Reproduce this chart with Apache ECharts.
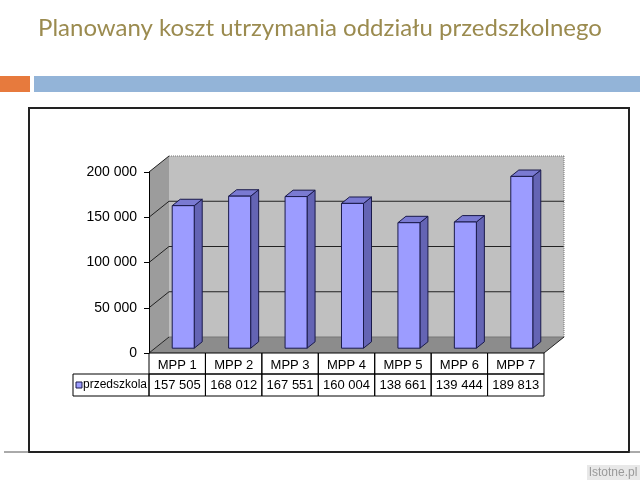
<!DOCTYPE html>
<html lang="pl">
<head>
<meta charset="UTF-8">
<title>Planowany koszt utrzymania oddziału przedszkolnego</title>
<script src="https://cdn.jsdelivr.net/npm/echarts@6/dist/echarts.min.js"></script>
<style>html,body{margin:0;padding:0;background:#fff}</style>
</head>
<body>
<div id="box" style="width:640px;height:480px"></div>
<script>
var titleText = 'Planowany koszt utrzymania oddziału przedszkolnego';
var categories = ['MPP 1', 'MPP 2', 'MPP 3', 'MPP 4', 'MPP 5', 'MPP 6', 'MPP 7'];
var values = [157505, 168012, 167551, 160004, 138661, 139444, 189813];
var seriesName = 'przedszkola';
var yTicks = [0, 50000, 100000, 150000, 200000];

var myChart = echarts.init(document.getElementById('box'));

// przesuniecie tylnej sciany (glebokosc "3D")
var DX = 20, DY = -16;
var FONT = 'Liberation Sans, Arial, sans-serif';

function fmt(v) {
    return String(v).replace(/\B(?=(\d{3})+(?!\d))/g, ' ');
}

function line(x1, y1, x2, y2, color, dash) {
    return {
        type: 'line',
        shape: { x1: x1, y1: y1, x2: x2, y2: y2 },
        style: { stroke: color, lineWidth: 1, lineDash: dash || null }
    };
}

// sciany i podloga
function renderWalls(params, api) {
    var cs = params.coordSys;
    var x0 = cs.x, x1 = cs.x + cs.width;
    var yTop = api.coord([0, yTicks[yTicks.length - 1]])[1];
    var yBot = api.coord([0, 0])[1];
    var children = [
        { type: 'rect', shape: { x: x0 + DX, y: yTop + DY, width: x1 - x0, height: yBot - yTop }, style: { fill: '#c0c0c0' } },
        { type: 'polygon', shape: { points: [[x0, yTop], [x0 + DX, yTop + DY], [x0 + DX, yBot + DY], [x0, yBot]] }, style: { fill: '#9c9c9c' } },
        { type: 'polygon', shape: { points: [[x0, yBot], [x0 + DX, yBot + DY], [x1 + DX, yBot + DY], [x1, yBot]] }, style: { fill: '#8c8c8c' } }
    ];
    yTicks.forEach(function (v) {
        var y = api.coord([0, v])[1];
        if (v > 0 && v < yTicks[yTicks.length - 1]) {
            children.push(line(x0 + DX, y + DY, x1 + DX, y + DY, '#222'));
        }
        children.push(line(x0, y, x0 + DX, y + DY, '#222'));
    });
    children.push(line(x0 + DX, yTop + DY, x1 + DX, yTop + DY, '#777', [1, 1]));
    children.push(line(x1 + DX, yTop + DY, x1 + DX, yBot + DY, '#777', [1, 1]));
    children.push(line(x0 + DX, yBot + DY, x1 + DX, yBot + DY, '#777'));
    children.push(line(x1, yBot, x1 + DX, yBot + DY, '#222'));
    return { type: 'group', children: children };
}

// slupki 3D
function renderBar(params, api) {
    var idx = api.value(0), v = api.value(1);
    var top = api.coord([idx, v]);
    var base = api.coord([idx, 0]);
    var bw = api.size([1, 0])[0] * 0.39;
    var ox = DX * 0.3, oy = DY * 0.3;
    var bdx = DX * 0.4, bdy = DY * 0.4;
    var l = top[0] - bw / 2 + ox, r = l + bw;
    var t = top[1] + oy, b = base[1] + oy;
    var edge = { stroke: '#1a1a4a', lineWidth: 1 };
    return {
        type: 'group',
        children: [
            { type: 'polygon', shape: { points: [[r, t], [r + bdx, t + bdy], [r + bdx, b + bdy], [r, b]] }, style: Object.assign({ fill: '#6464b4' }, edge) },
            { type: 'polygon', shape: { points: [[l, t], [l + bdx, t + bdy], [r + bdx, t + bdy], [r, t]] }, style: Object.assign({ fill: '#7a7ad2' }, edge) },
            { type: 'rect', shape: { x: l, y: t, width: bw, height: b - t }, style: Object.assign({ fill: '#9c9cff' }, edge) }
        ]
    };
}

// tabela danych pod wykresem
function renderTable(params, api) {
    var idx = api.value(0), v = api.value(1);
    var c = api.coord([idx, 0]);
    var cw = api.size([1, 0])[0];
    var l = c[0] - cw / 2, r = l + cw;
    var y0 = c[1], y1 = y0 + 21, y2 = y1 + 22;
    var cell = { fill: 'none', stroke: '#000', lineWidth: 1 };
    var txt = { fontFamily: FONT, fontSize: 13, fill: '#000', textAlign: 'center', textVerticalAlign: 'middle' };
    var children = [
        { type: 'rect', shape: { x: l, y: y0, width: cw, height: y1 - y0 }, style: cell },
        { type: 'rect', shape: { x: l, y: y1, width: cw, height: y2 - y1 }, style: cell },
        { type: 'text', x: (l + r) / 2, y: (y0 + y1) / 2 + 2, style: Object.assign({ text: categories[idx] }, txt) },
        { type: 'text', x: (l + r) / 2, y: (y1 + y2) / 2, style: Object.assign({ text: fmt(v) }, txt) }
    ];
    if (idx === 0) {
        children.push({ type: 'rect', shape: { x: l - 76, y: y1, width: 76, height: y2 - y1 }, style: cell });
        children.push({ type: 'rect', shape: { x: l - 73, y: (y1 + y2) / 2 - 3, width: 6, height: 6 }, style: { fill: '#9c9cff', stroke: '#1a1a4a', lineWidth: 1 } });
        children.push({ type: 'text', x: l - 66, y: (y1 + y2) / 2, style: { text: seriesName, fontFamily: FONT, fontSize: 12, fill: '#000', textAlign: 'left', textVerticalAlign: 'middle' } });
    }
    return { type: 'group', children: children };
}

var seriesData = values.map(function (v, i) { return [i, v]; });

var option = {
    backgroundColor: '#fff',
    animation: false,
    grid: { left: 149, top: 172, width: 395, height: 181 },
    xAxis: {
        type: 'category',
        data: categories,
        axisLine: { show: false },
        axisTick: { show: false },
        axisLabel: { show: false }
    },
    yAxis: {
        type: 'value',
        min: 0,
        max: 200000,
        interval: 50000,
        z: 5,
        axisLine: { show: true, lineStyle: { color: '#000', width: 1 } },
        axisTick: { show: true, length: 5, lineStyle: { color: '#000' } },
        splitLine: { show: false },
        axisLabel: { margin: 12, color: '#000', fontSize: 14, fontFamily: FONT, formatter: fmt }
    },
    graphic: [
        { type: 'text', x: 320, y: 28, style: { text: titleText, fontFamily: 'Lato, sans-serif', fontSize: 24, fill: '#9b8b4f', textAlign: 'center', textVerticalAlign: 'middle' } },
        { type: 'rect', shape: { x: 0, y: 76, width: 30, height: 16 }, style: { fill: '#e77a3d' } },
        { type: 'rect', shape: { x: 34, y: 76, width: 606, height: 16 }, style: { fill: '#93b4d8' } },
        { type: 'rect', shape: { x: 29, y: 108, width: 600, height: 344 }, style: { fill: '#fff', stroke: '#222', lineWidth: 2 }, z: -10 },
        { type: 'line', shape: { x1: 4, y1: 452, x2: 29, y2: 452 }, style: { stroke: '#555', lineWidth: 1 } },
        { type: 'line', shape: { x1: 629, y1: 452, x2: 640, y2: 452 }, style: { stroke: '#555', lineWidth: 1 } },
        { type: 'rect', shape: { x: 587, y: 465, width: 53, height: 15 }, style: { fill: '#e8e8e8' } },
        { type: 'text', x: 613, y: 473, style: { text: 'Istotne.pl', fontFamily: FONT, fontSize: 12, fill: '#9a9a9a', textAlign: 'center', textVerticalAlign: 'middle' } }
    ],
    series: [
        { type: 'custom', name: 'walls', renderItem: renderWalls, data: [[0, 0]], clip: false, z: 1, silent: true },
        { type: 'custom', name: seriesName, renderItem: renderBar, data: seriesData, encode: { x: 0, y: 1 }, clip: false, z: 3 },
        { type: 'custom', name: 'table', renderItem: renderTable, data: seriesData, encode: { x: 0, y: 1 }, clip: false, z: 4, silent: true }
    ]
};

myChart.setOption(option);
</script>
</body>
</html>
